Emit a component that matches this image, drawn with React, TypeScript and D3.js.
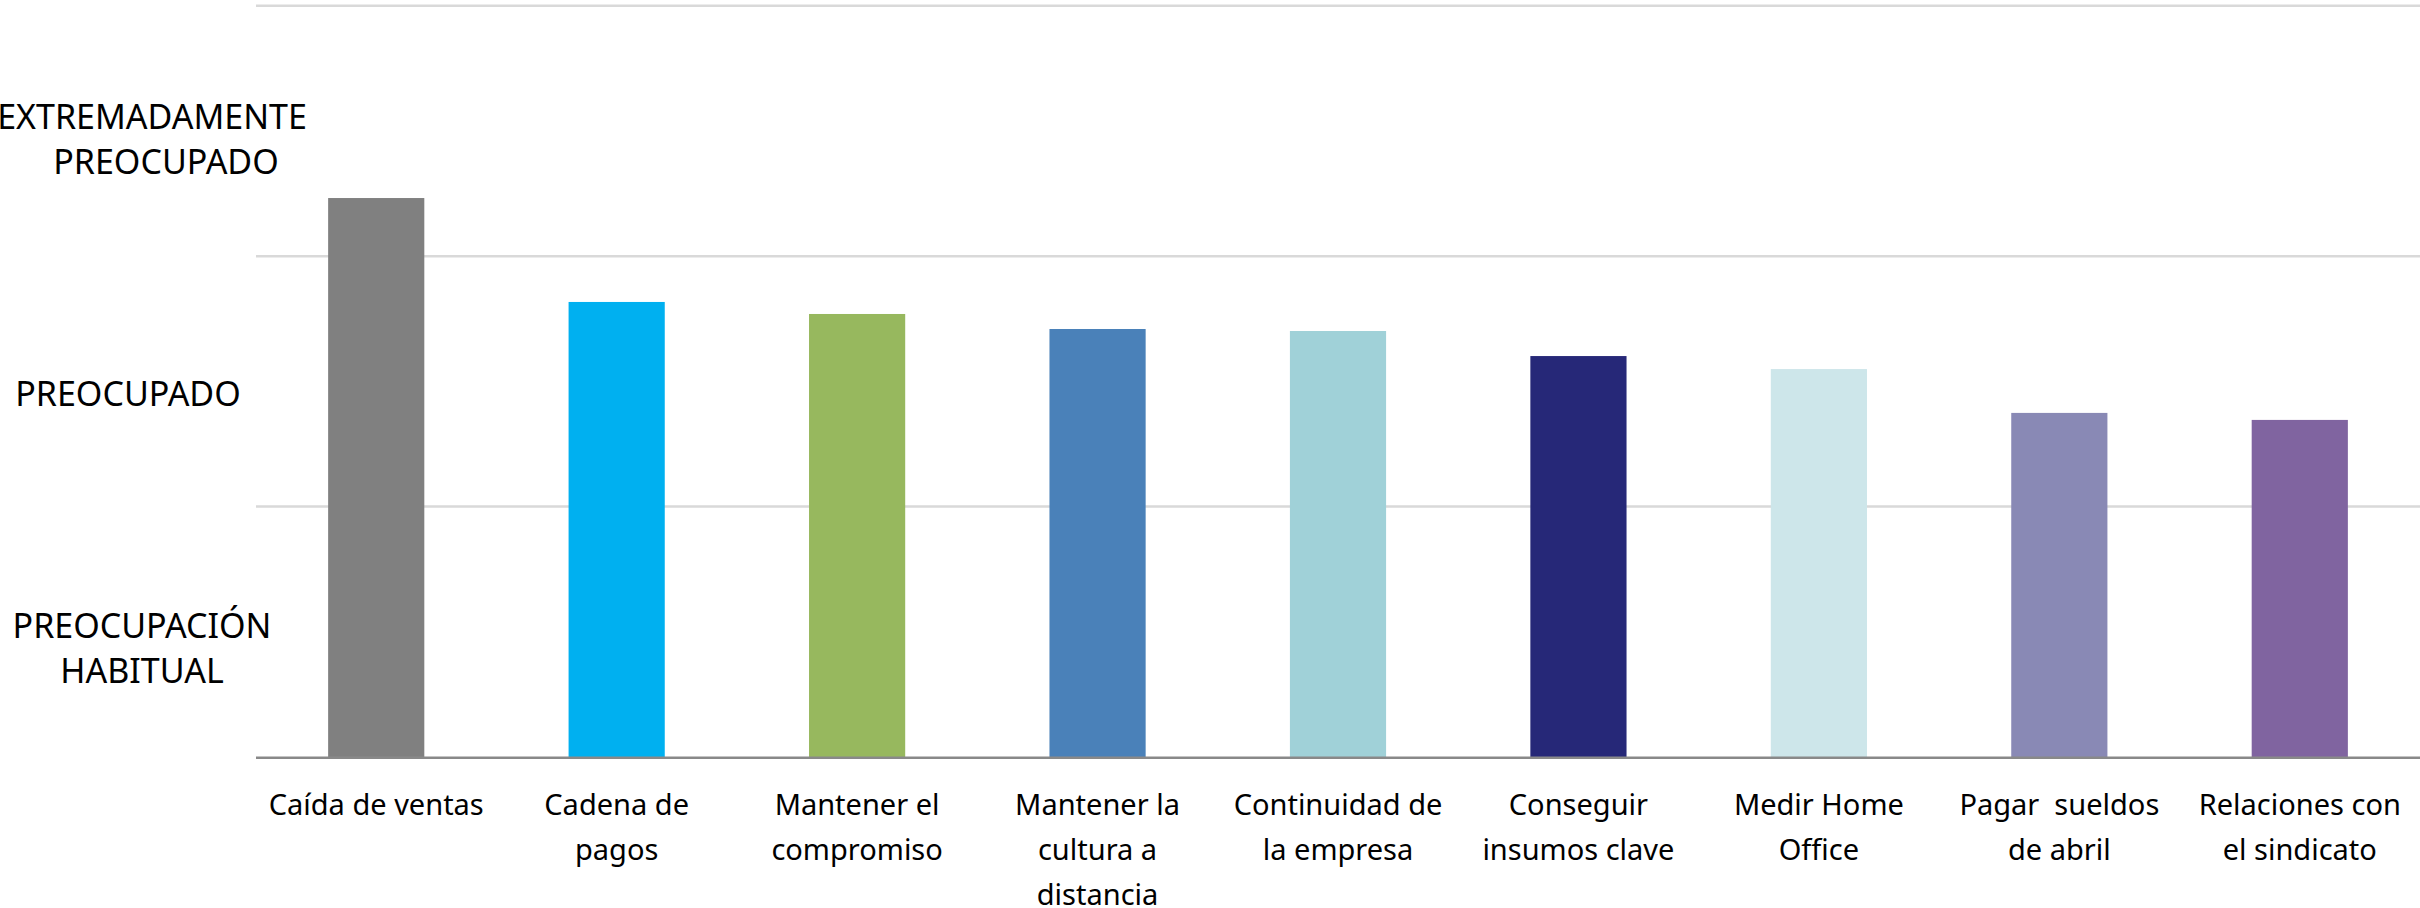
import React, { useEffect } from "react";
import * as d3 from "d3";

// categories (line breaks as in the original)
const categories = [
  "Caída de ventas",
  "Cadena de pagos",
  "Mantener el compromiso",
  "Mantener la cultura a distancia",
  "Continuidad de la empresa",
  "Conseguir insumos clave",
  "Medir Home Office",
  "Pagar  sueldos de abril",
  "Relaciones con el sindicato",
];
const categoryLines = [
  ["Caída de ventas"],
  ["Cadena de", "pagos"],
  ["Mantener el", "compromiso"],
  ["Mantener la", "cultura a", "distancia"],
  ["Continuidad de", "la empresa"],
  ["Conseguir", "insumos clave"],
  ["Medir Home", "Office"],
  ["Pagar  sueldos", "de abril"],
  ["Relaciones con", "el sindicato"],
];
const values = [2.232, 1.817, 1.769, 1.709, 1.701, 1.601, 1.549, 1.374, 1.346];
const barColors = [
  "#808080",
  "#00B0F0",
  "#97B85E",
  "#4A81B9",
  "#A0D1D8",
  "#262878",
  "#CDE6EA",
  "#8989B5",
  "#8064A0",
];

// level labels on the left, placed at these scale values
const gridValues = [1, 2, 3];
const levelLines = [["PREOCUPACIÓN", "HABITUAL"], ["PREOCUPADO"], ["EXTREMADAMENTE", "PREOCUPADO"]];
const levelValues = [0.435, 1.452, 2.468];

const W = 2420;
const H = 908;
const PLOT = { left: 256, right: 2420, top: 5.7, bottom: 757 };
const LEVEL_X = [[142, 142], [128], [152, 166]];
const FONT = "'Noto Sans', 'Open Sans', sans-serif";

export default function App() {
  useEffect(() => {
    document.body.style.margin = "0";
    document.body.style.overflow = "hidden";
  }, []);

  const x = d3
    .scaleBand<string>()
    .domain(categories)
    .range([PLOT.left, PLOT.right])
    .paddingInner(0.6)
    .paddingOuter(0.3);
  const y = d3.scaleLinear().domain([0, 3]).range([PLOT.bottom, PLOT.top]);

  const capHalf = 12.5;
  const levelLh = 45;
  const catLh = 45;

  return (
    <svg width={W} height={H} style={{ display: "block" }} fontFamily={FONT}>
      <rect width={W} height={H} fill="#fff" />
      {/* gridlines */}
      {gridValues.map((v) => (
        <line
          key={v}
          x1={PLOT.left}
          x2={PLOT.right}
          y1={y(v)}
          y2={y(v)}
          stroke="#d9d9d9"
          strokeWidth={2.5}
        />
      ))}
      {/* bars */}
      {categories.map((c, i) => (
        <rect
          key={c}
          x={x(c)}
          y={y(values[i])}
          width={x.bandwidth()}
          height={y(0) - y(values[i])}
          fill={barColors[i]}
        />
      ))}
      {/* baseline */}
      <line
        x1={PLOT.left}
        x2={PLOT.right}
        y1={y(0) + 0.8}
        y2={y(0) + 0.8}
        stroke="#898989"
        strokeWidth={2.5}
      />
      {/* category labels */}
      {categories.map((c, i) => (
        <text
          key={c}
          x={(x(c) ?? 0) + x.bandwidth() / 2}
          y={815}
          textAnchor="middle"
          fontSize={29}
          fill="#000"
          style={{ whiteSpace: "pre" }}
        >
          {categoryLines[i].map((ln, j) => (
            <tspan key={j} x={(x(c) ?? 0) + x.bandwidth() / 2} y={815 + j * catLh}>
              {ln}
            </tspan>
          ))}
        </text>
      ))}
      {/* level labels */}
      {levelLines.map((lines, i) => {
        const cy = y(levelValues[i]);
        const first = cy - ((lines.length - 1) * levelLh) / 2 + capHalf;
        return (
          <text key={i} textAnchor="middle" fontSize={34} fill="#000">
            {lines.map((ln, j) => (
              <tspan key={j} x={LEVEL_X[i][j]} y={first + j * levelLh}>
                {ln}
              </tspan>
            ))}
          </text>
        );
      })}
    </svg>
  );
}
